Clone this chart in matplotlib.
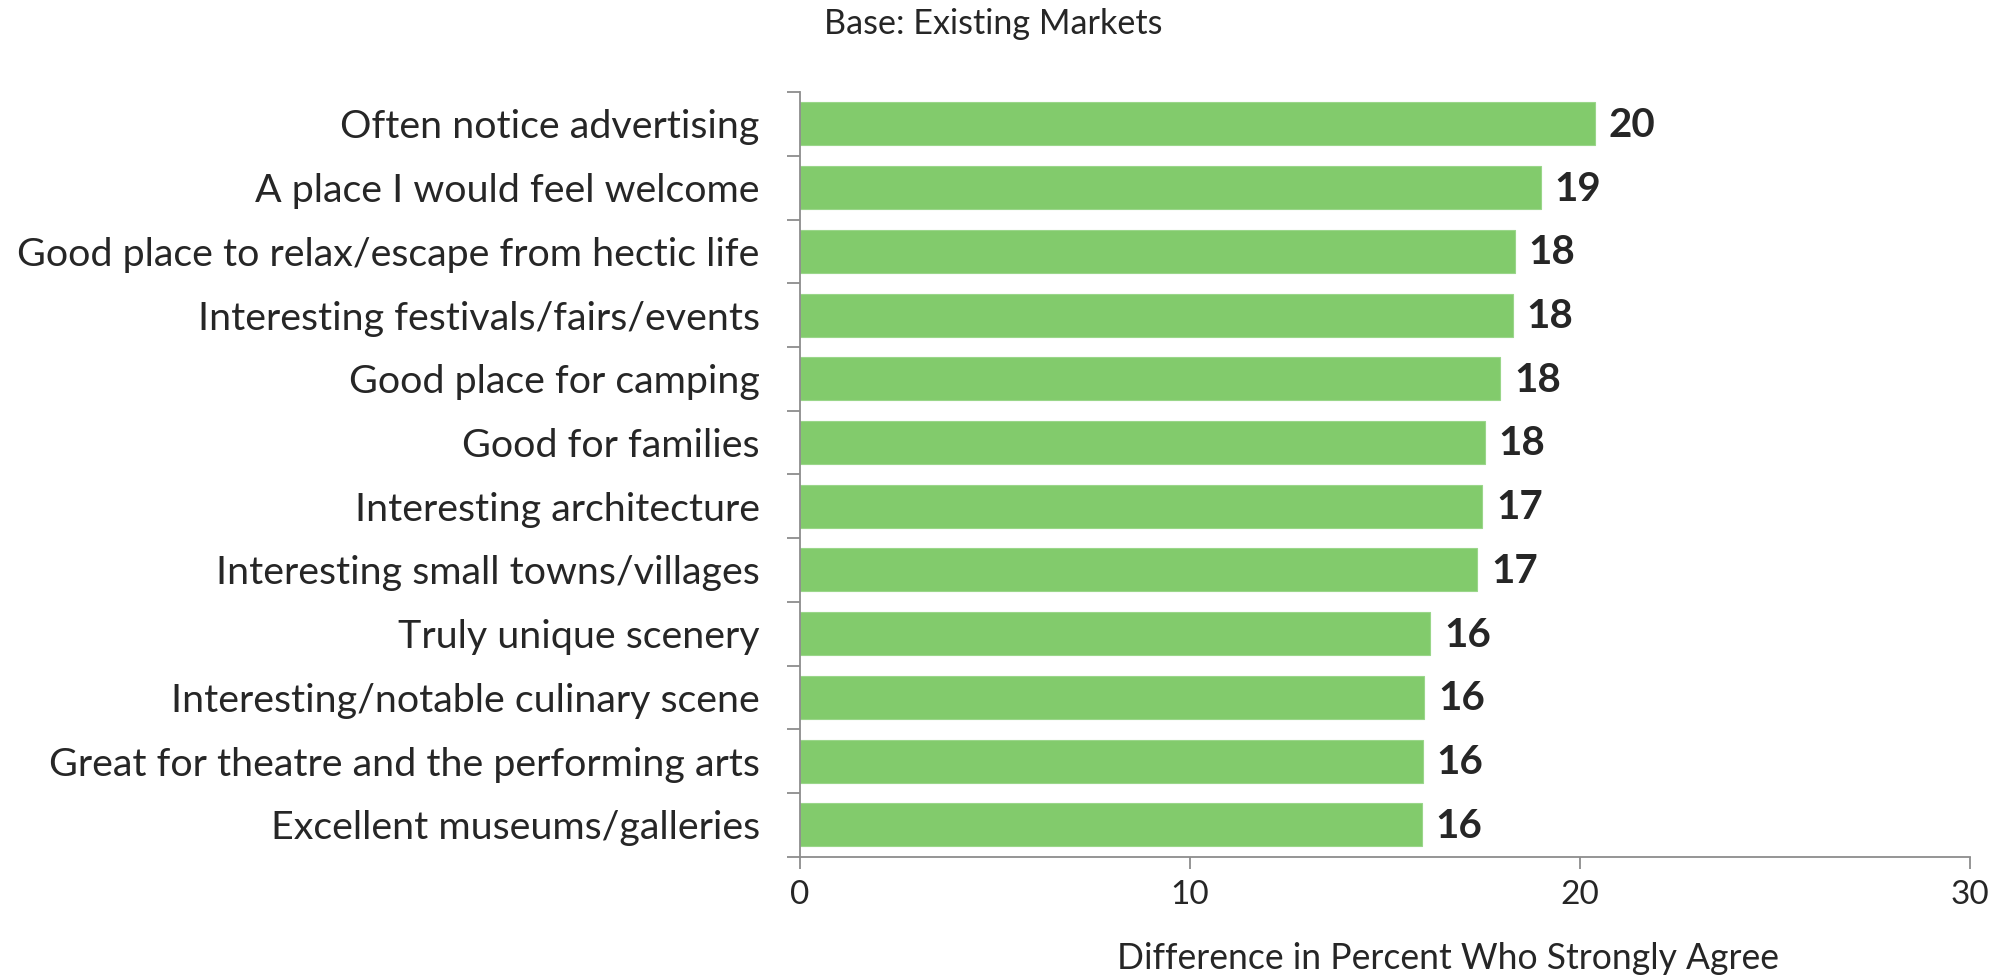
import matplotlib.pyplot as plt
import numpy as np

categories = [
    "Often notice advertising",
    "A place I would feel welcome",
    "Good place to relax/escape from hectic life",
    "Interesting festivals/fairs/events",
    "Good place for camping",
    "Good for families",
    "Interesting architecture",
    "Interesting small towns/villages",
    "Truly unique scenery",
    "Interesting/notable culinary scene",
    "Great for theatre and the performing arts",
    "Excellent museums/galleries",
]
values = [20.38, 18.99, 18.33, 18.28, 17.95, 17.56, 17.49, 17.37, 16.16, 16.01, 15.97, 15.94]
x_ticks = [0, 10, 20, 30]

plt.rcParams['font.family'] = ['Lato', 'DejaVu Sans']
grey = '#8c8c8c'
text_col = '#262626'

fig = plt.figure(figsize=(20.05, 9.8), dpi=100)
ax = fig.add_axes([0.399, 0.1258, 0.5835, 0.7802])

y = np.arange(len(categories))
ax.barh(y, values, height=0.675, color='#82cb6c', edgecolor='#9ad68a', linewidth=0.8)

for yi, v in zip(y, values):
    ax.annotate(f"{v:.0f}", (v, yi), xytext=(10, -1), textcoords='offset points',
                ha='left', va='center', fontsize=29, fontweight='bold', color=text_col)

ax.set_xlim(0, 30)
ax.set_ylim(len(categories) - 0.5, -0.5)
ax.set_xticks(x_ticks)
ax.set_yticks(y)
ax.set_yticklabels(categories, fontsize=28.4, color=text_col)
ax.set_yticks(np.arange(len(categories) + 1) - 0.5, minor=True)

ax.tick_params(axis='y', which='major', length=0, pad=29)
ax.tick_params(axis='y', which='minor', length=9.4, width=1.3, color=grey, direction='out')
ax.tick_params(axis='x', length=8.6, width=1.3, color=grey, pad=8, labelsize=24, labelcolor=text_col)

for s in ['top', 'right']:
    ax.spines[s].set_visible(False)
for s in ['left', 'bottom']:
    ax.spines[s].set_color(grey)
    ax.spines[s].set_linewidth(1.3)

fig.text(0.4955, 0.976, "Base: Existing Markets", ha='center', va='center', fontsize=24.6, color=text_col)
fig.text(0.722, 0.022, "Difference in Percent Who Strongly Agree", ha='center', va='center',
         fontsize=25.6, color=text_col)

fig.savefig('out.png', dpi=100)
